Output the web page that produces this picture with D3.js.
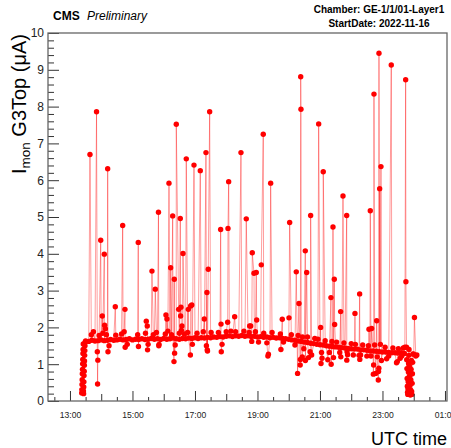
<!DOCTYPE html>
<html><head><meta charset="utf-8">
<script src="https://cdn.jsdelivr.net/npm/d3@7"></script>
<style>
body{margin:0;background:#fff}
svg{display:block}
text{font-family:"Liberation Sans",Arial,Helvetica,sans-serif}
</style>
</head><body><svg id="c" width="451" height="448"></svg>
<script>
// time = minutes after 13:00 UTC (2022-11-16), value = I_mon G3Top in uA
const baseline = [[30,1.63],[36,1.62],[42,1.65],[48,1.63],[54,1.64],[60,1.66],[66,1.64],[72,1.65],[78,1.67],
[84,1.65],[90,1.66],[96,1.68],[102,1.66],[108,1.67],[114,1.69],[120,1.66],[126,1.68],[132,1.67],[138,1.69],
[144,1.67],[150,1.68],[156,1.70],[162,1.68],[168,1.69],[174,1.67],[180,1.70],[186,1.68],[192,1.69],[198,1.71],
[204,1.69],[210,1.68],[216,1.70],[222,1.69],[228,1.71],[234,1.70],[240,1.72],[246,1.70],[252,1.72],[258,1.71],
[264,1.73],[270,1.72],[276,1.74],[282,1.73],[288,1.75],[294,1.74],[300,1.76],[306,1.77],[312,1.75],[318,1.77],
[324,1.76],[330,1.78],[336,1.76],[342,1.77],[348,1.75],[354,1.76],[360,1.74],[366,1.75],[372,1.73],[378,1.74],
[384,1.72],[390,1.73],[396,1.71],[402,1.72],[408,1.70],[414,1.69],[420,1.68],[426,1.66],[432,1.65],[438,1.63],
[444,1.62],[450,1.60],[456,1.59],[462,1.57],[468,1.56],[474,1.54],[480,1.53],[486,1.52],[492,1.50],[498,1.49],
[504,1.48],[510,1.47],[516,1.46],[522,1.45],[528,1.44],[534,1.43],[540,1.42],[546,1.41],[552,1.41],[558,1.39],
[564,1.39],[570,1.38],[576,1.36],[582,1.36],[588,1.35],[594,1.34],[600,1.33],[606,1.33],[612,1.32],[618,1.31],
[624,1.31],[630,1.30],[636,1.31],[642,1.29],[660,1.27],[664,1.22],[666,1.25]];

const rampUp = [[22.5,0.22],[22.8,0.31],[23.1,0.45],[23.4,0.58],[23.7,0.74],[24.0,0.86],[24.3,1.01],[24.6,1.13],
[24.9,1.29],[25.2,1.40],[25.5,1.55],[25.8,0.27],[26.1,0.20],[26.4,0.38],[26.7,0.52],[27.0,0.69],[27.3,0.81],
[27.6,0.97],[27.9,1.09],[28.2,1.24],[28.5,1.37],[28.8,1.50],[29.1,1.60]];

const rampDown = [[646.2,1.46],[646.6,1.12],[647.0,0.88],[647.4,0.61],[647.8,0.40],[648.2,0.24],[648.6,0.18],
[649.0,0.33],[649.4,0.52],[649.8,0.79],[650.2,1.02],[650.6,1.24],[651.0,1.40],[651.5,0.95],[652.0,0.68],
[652.5,0.42],[653.0,0.20],[653.5,0.16],[654.0,0.30],[654.5,0.57],[655.0,0.86],[655.5,1.10],[656.0,0.26],
[656.5,0.18],[657.0,0.48],[657.5,0.74],[658.0,1.05],[658.5,1.28]];

const spikes = [[38.4,6.70],[51,7.86],[59,4.37],[62,2.31],[65.9,3.99],[66.5,2.06],[72.4,6.31],[87,2.56],
[101.2,4.77],[105.6,2.49],[131.1,4.31],[146.5,2.17],[148.4,2.04],[157.4,3.53],[163.8,3.04],[169.9,5.13],
[184.3,2.34],[186.2,2.23],[190.1,5.92],[193.3,3.62],[197.2,5.03],[200.3,3.31],[204.1,7.52],[208.7,2.49],
[211.8,4.96],[212.5,2.31],[213.1,2.55],[215,2.04],[217,4.01],[223.3,6.58],[227.1,2.49],[231.7,2.58],[233.9,2.61],
[238.1,6.41],[250.2,6.26],[257.9,2.23],[261.1,6.75],[263,2.95],[265.5,3.58],[268.2,7.86],[289.3,4.66],
[290,2.09],[302.8,2.14],[303.4,4.69],[304.7,5.96],[316.2,2.29],[328.3,6.75],[338.5,4.95],[345,2.04],[347,2.04],
[350,4.03],[353.3,3.47],[357.7,3.49],[358.5,2.20],[367.3,3.70],[371.1,7.25],[385.3,5.92],[407.6,2.22],
[420.5,2.26],[421.8,4.85],[434.5,3.51],[439.7,2.65],[443,8.81],[443.5,7.93],[451.8,4.08],[454.5,3.49],
[462.1,5.04],[477.5,7.53],[481.3,2.00],[486.3,6.23],[501.1,2.81],[505,4.73],[507.5,3.31],[508.2,2.08],
[519.7,2.43],[524.2,5.57],[531.3,5.04],[547.2,2.38],[556.2,2.91],[574.1,1.95],[576.6,5.17],[579.3,1.97],
[583.7,8.34],[588.9,2.18],[593.3,9.45],[594.6,5.77],[597.1,6.37],[616.9,9.13],[644.5,8.73],[645,3.24],
[661.4,2.27]];

const dips = [[52.5,1.34],[53,0.46],[53.5,1.11],[73,1.34],[106,1.46],[131.5,1.48],[148.9,1.39],[170.5,1.50],
[199.7,1.07],[200.9,1.30],[231.2,1.25],[263.6,1.39],[264,1.36],[290.5,1.34],[380,1.22],[381,1.27],[405,1.40],
[437,0.75],[442,0.98],[442.4,1.13],[446,1.20],[452,1.10],[458,1.18],[464,1.25],[482,1.02],[484,1.16],
[495,1.12],[501.5,1.00],[506,1.18],[520,1.20],[531.5,1.11],[532,1.34],[544,1.25],[556.5,1.13],[558,1.25],
[570,1.22],[582.5,0.73],[583,0.98],[587,0.75],[592,0.57],[592.5,0.80],[593,0.89],[598,1.10],[608,1.15],
[627,1.04],[628.5,1.07],[634,1.16]];

const band = [[41,1.80],[45,1.88],[56,1.78],[63,1.84],[68,1.96],[70,1.80],[75,1.50],[88,1.79],[99,1.82],
[104,1.88],[110,1.54],[130,1.80],[145,1.84],[150,1.54],[160,1.80],[166,1.86],[171,1.54],[183,1.82],[188,1.90],
[195,1.80],[202,1.52],[210,1.84],[214,1.92],[220,1.82],[226,1.86],[235,1.54],[244,1.84],[256,1.88],[262,1.50],
[271,1.86],[285,1.86],[292,1.54],[300,1.88],[309,1.90],[318,1.88],[334,1.90],[344,1.86],[349,1.62],[356,1.88],
[362,1.60],[372,1.84],[378,1.58],[388,1.86],[404,1.82],[410,1.60],[425,1.80],[432,1.52],[438,1.78],[446.5,1.74],
[449,1.42],[456,1.74],[461,1.34],[470,1.70],[476,1.68],[483,1.32],[490,1.64],[498,1.32],[503,1.62],[512,1.60],
[518,1.32],[526,1.58],[533,1.26],[540,1.56],[548,1.54],[555,1.24],[562,1.52],[573,1.50],[578,1.22],[585,1.52],
[590,1.20],[596,1.54],[605,1.46],[612,1.22],[620,1.44],[630.5,1.42],[637,1.22],[640,1.44],[643,1.46]];

const xLabelMin = [0,120,240,360,480,600,720];
const xLabels = ["13:00","15:00","17:00","19:00","21:00","23:00","01:00"];
const yTicks = [0,1,2,3,4,5,6,7,8,9,10];

const svg = d3.select("#c");
const L=48, R=447, T=33, B=401;
const x = d3.scaleLinear().domain([-42.2, 723.9]).range([L, R]);
const y = d3.scaleLinear().domain([0, 10]).range([B, T]);

const pts = [].concat(baseline, rampUp, rampDown, spikes, dips, band).sort((a,b)=>a[0]-b[0]);

// line
svg.append("path").datum(pts)
  .attr("d", d3.line().x(d=>x(d[0])).y(d=>y(d[1])))
  .attr("fill","none").attr("stroke","rgba(255,0,0,0.38)").attr("stroke-width",1);

svg.append("g").selectAll("circle").data(pts).join("circle")
  .attr("cx", d=>x(d[0])).attr("cy", d=>y(d[1])).attr("r", 2.7).attr("fill", "#ff0000");

// x axis ticks (inward)
const halfH = d3.range(-30, 721, 30);
const g1 = svg.append("g").attr("transform",`translate(0,${B})`)
  .call(d3.axisBottom(x).tickValues(halfH.filter(m=>m%60!==0)).tickSize(-4).tickFormat(""));
const g2 = svg.append("g").attr("transform",`translate(0,${B})`)
  .call(d3.axisBottom(x).tickValues(halfH.filter(m=>m%60===0 && m%120!==0)).tickSize(-7).tickFormat(""));
const g3 = svg.append("g").attr("transform",`translate(0,${B})`)
  .call(d3.axisBottom(x).tickValues(xLabelMin).tickSize(-10).tickPadding(11).tickFormat((d,i)=>xLabels[i]));
[g1,g2,g3].forEach(g=>{g.select(".domain").remove(); g.selectAll("line").attr("stroke","#333");});
g3.selectAll("text").attr("font-size", 8.6).attr("fill","#222")
  .style("font-family",'"Liberation Sans",Arial,sans-serif');

// y axis
const yMinor = d3.range(0, 10.001, 0.2).filter(v=>Math.abs(v-Math.round(v))>1e-6);
const gy1 = svg.append("g").attr("transform",`translate(${L},0)`)
  .call(d3.axisLeft(y).tickValues(yMinor).tickSize(-6).tickFormat(""));
const gy2 = svg.append("g").attr("transform",`translate(${L},0)`)
  .call(d3.axisLeft(y).tickValues(yTicks).tickSize(-11).tickPadding(4).tickFormat(d3.format("d")));
[gy1,gy2].forEach(g=>{g.select(".domain").remove(); g.selectAll("line").attr("stroke","#333");});
gy2.selectAll("text").attr("font-size", 12).attr("fill","#222")
  .style("font-family",'"Liberation Sans",Arial,sans-serif');

// frame
svg.append("rect").attr("x",L).attr("y",T).attr("width",R-L).attr("height",B-T)
  .attr("fill","none").attr("stroke","#666").attr("stroke-width",1.3);

// titles
svg.append("text").attr("x",53).attr("y",20).attr("font-size",12).attr("font-weight","bold").text("CMS");
svg.append("text").attr("x",87).attr("y",20).attr("font-size",12).attr("font-style","italic").text("Preliminary");
svg.append("text").attr("x",379).attr("y",13).attr("font-size",10).attr("font-weight","bold")
  .attr("text-anchor","middle").text("Chamber: GE-1/1/01-Layer1");
svg.append("text").attr("x",379).attr("y",27).attr("font-size",10).attr("font-weight","bold")
  .attr("text-anchor","middle").text("StartDate: 2022-11-16");

svg.append("text").attr("x",R).attr("y",445).attr("font-size",18).attr("text-anchor","end").text("UTC time");

const yt = svg.append("text").attr("transform",`translate(26,${T+1}) rotate(-90)`)
  .attr("font-size",20).attr("text-anchor","end");
yt.append("tspan").text("I");
yt.append("tspan").attr("font-size",13.5).attr("dy",4).text("mon");
yt.append("tspan").attr("dy",-4).text(" G3Top (μA)");
</script></body></html>
